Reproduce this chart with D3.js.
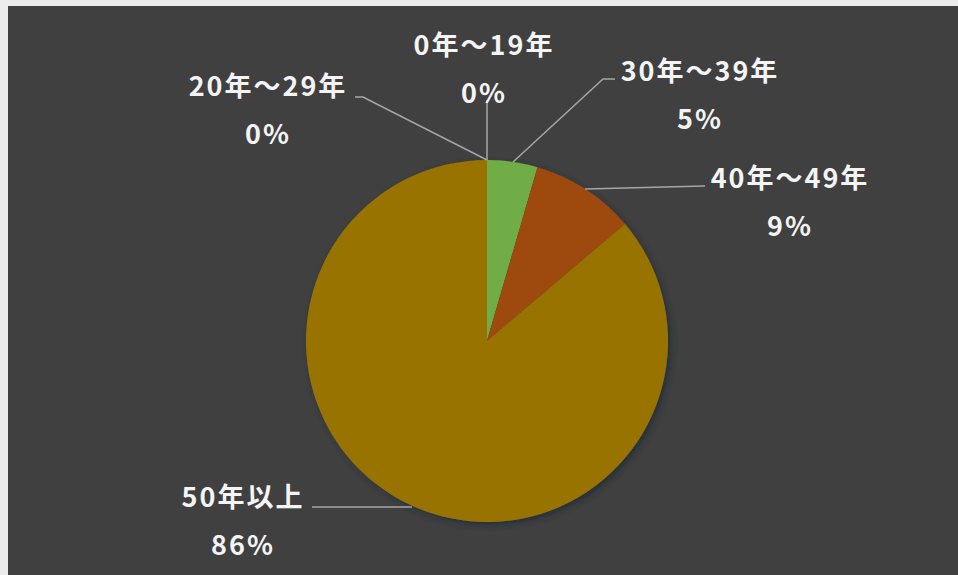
<!DOCTYPE html>
<html>
<head>
<meta charset="utf-8">
<script src="https://cdn.jsdelivr.net/npm/d3@7"></script>
<style>
    body { margin: 0; background: #ececec; }
    svg { display: block; }
    text { font-family: "Noto Sans CJK JP", "Noto Sans", sans-serif; font-weight: bold; fill: #f4f4f4; }
</style>
</head>
<body>
<div id="chart"></div>
<script>
// categories and their shares (percent)
const categories = ['0年～19年', '20年～29年', '30年～39年', '40年～49年', '50年以上'];
const shares = [0, 0, 4.5, 9.3, 86.2];
const colors = ['#4472c4', '#ed7d31', '#70ad47', '#9e480e', '#997300'];

// label placement (relative to pie centre), not data
const labelLayout = {
    '0年～19年': { x: -3, y: -296, line: [[0, -241], [0, -181]] },
    '20年～29年': { x: -219, y: -255, line: [[-132, -244], [-124, -244], [0, -181]] },
    '30年～39年': { x: 213, y: -270, line: [[128, -262], [116, -262], [26, -179]] },
    '40年～49年': { x: 303, y: -163, line: [[218, -155], [98, -152]] },
    '50年以上': { x: -244, y: 156, line: [[-175, 166], [-75, 166]] }
};

const width = 958, height = 575;
const cx = 487, cy = 341, radius = 181;

const svg = d3.select('#chart').append('svg')
    .attr('width', width)
    .attr('height', height);

// dark plot background with the light frame showing at top/left
svg.append('rect')
    .attr('x', 8).attr('y', 6)
    .attr('width', width - 8).attr('height', height - 6)
    .attr('fill', '#404040');

// soft shadow under the pie
const defs = svg.append('defs');
defs.append('filter').attr('id', 'shadow')
    .attr('x', '-10%').attr('y', '-10%').attr('width', '120%').attr('height', '120%')
    .append('feDropShadow')
    .attr('dx', 3).attr('dy', 3)
    .attr('stdDeviation', 3)
    .attr('flood-color', '#1e2533')
    .attr('flood-opacity', 0.7);

const data = categories.map((c, i) => ({ name: c, value: shares[i], color: colors[i] }));

const pie = d3.pie().sort(null).value((d) => d.value);
const arc = d3.arc().innerRadius(0).outerRadius(radius);

const g = svg.append('g').attr('transform', 'translate(' + cx + ',' + cy + ')');

g.append('g').attr('filter', 'url(#shadow)')
    .selectAll('path')
    .data(pie(data).filter((d) => d.data.value > 0))
    .enter().append('path')
    .attr('d', arc)
    .attr('fill', (d) => d.data.color);

// leader lines
g.selectAll('.leader')
    .data(data)
    .enter().append('path')
    .attr('class', 'leader')
    .attr('fill', 'none')
    .attr('stroke', '#a6a6a6')
    .attr('stroke-width', 1.5)
    .attr('d', (d) => d3.line()(labelLayout[d.name].line));

// labels: category name + rounded percent
const labels = g.selectAll('.label')
    .data(data)
    .enter().append('text')
    .attr('class', 'label')
    .attr('text-anchor', 'middle')
    .attr('font-size', 27)
    .attr('letter-spacing', 2);

labels.append('tspan')
    .attr('x', (d) => labelLayout[d.name].x)
    .attr('y', (d) => labelLayout[d.name].y + 10)
    .text((d) => d.name);

labels.append('tspan')
    .attr('x', (d) => labelLayout[d.name].x)
    .attr('y', (d) => labelLayout[d.name].y + 58)
    .text((d) => Math.round(d.value) + '%');
</script>
</body>
</html>
